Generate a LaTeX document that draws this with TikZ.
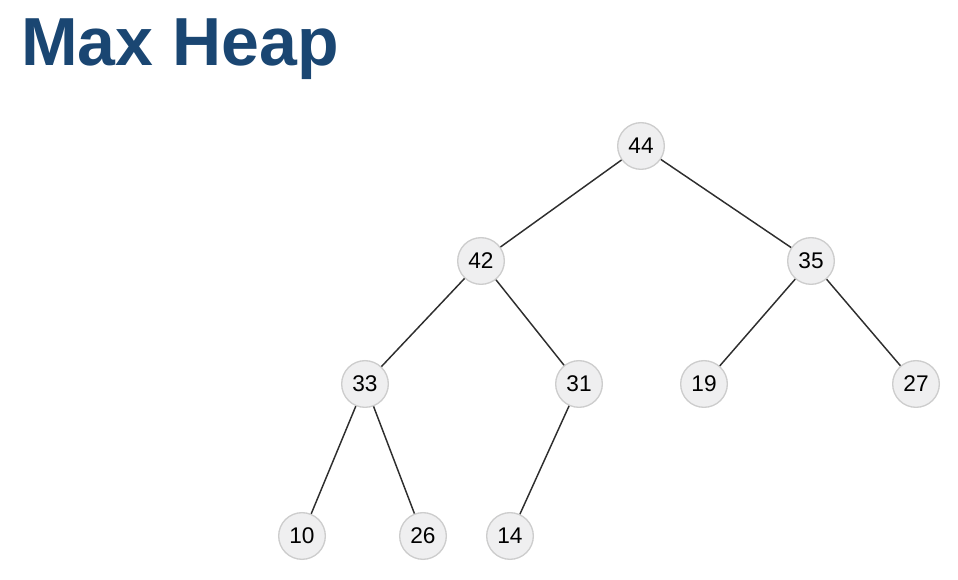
\documentclass[tikz,border=0pt]{standalone}
\usepackage{fontspec}
\setmainfont{Liberation Sans}
\definecolor{titleblue}{HTML}{1A4672}
\definecolor{nodefill}{HTML}{EFEFF0}
\definecolor{nodeline}{HTML}{CDCDCD}
\definecolor{edgeline}{HTML}{2E2E2E}
\tikzset{
  heapnode/.style={circle,draw=nodeline,fill=nodefill,line width=1pt,minimum size=35pt,inner sep=0pt,font=\fontsize{17}{19}\selectfont},
  heapedge/.style={draw=edgeline,line width=1.1pt}
}
\begin{document}
\begin{tikzpicture}[x=0.75pt,y=0.75pt,yscale=-1,xscale=1]
\useasboundingbox (0,0) rectangle (958,580);

% Title
\node (title) at (21,66) [anchor=base west,inner sep=0pt,text=titleblue,font=\fontsize{51}{57}\selectfont\bfseries] {Max Heap};

% Nodes
\node (n44) at (641,146) [heapnode] {44};
\node (n42) at (481,261) [heapnode] {42};
\node (n35) at (811,261) [heapnode] {35};
\node (n33) at (365,384) [heapnode] {33};
\node (n31) at (579,384) [heapnode] {31};
\node (n19) at (704,384) [heapnode] {19};
\node (n27) at (916,384) [heapnode] {27};
\node (n10) at (302,536) [heapnode] {10};
\node (n26) at (423,536) [heapnode] {26};
\node (n14) at (510,536) [heapnode] {14};

% Edges
\draw [heapedge] (n44) -- (n42);
\draw [heapedge] (n44) -- (n35);
\draw [heapedge] (n42) -- (n33);
\draw [heapedge] (n42) -- (n31);
\draw [heapedge] (n35) -- (n19);
\draw [heapedge] (n35) -- (n27);
\draw [heapedge] (n33) -- (n10);
\draw [heapedge] (n33) -- (n26);
\draw [heapedge] (n31) -- (n14);
\end{tikzpicture}
\end{document}
